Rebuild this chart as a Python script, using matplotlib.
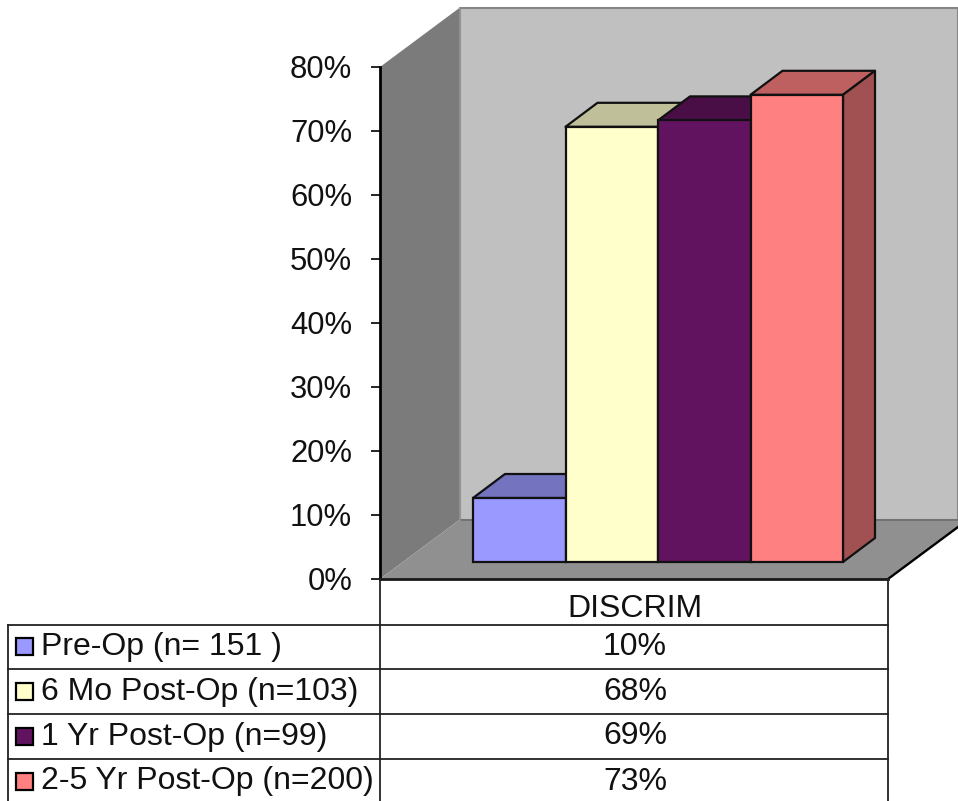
import matplotlib
matplotlib.use('Agg')
from matplotlib import pyplot as plt
from matplotlib.patches import Polygon, Rectangle
from matplotlib.colors import to_rgb

W, H = 958, 801

series_labels = ['Pre-Op (n= 151 )', '6 Mo Post-Op (n=103)', '1 Yr Post-Op (n=99)', '2-5 Yr Post-Op (n=200)']
series_values = [10, 68, 69, 73]
series_colors = ['#9999FF', '#FFFFCC', '#62135F', '#FF8080']
category = 'DISCRIM'
y_ticks = [0, 10, 20, 30, 40, 50, 60, 70, 80]

plt.rcParams['font.family'] = ['Liberation Sans', 'DejaVu Sans']

fig = plt.figure(figsize=(W / 100, H / 100), dpi=100)

# eixo principal: x em pixels a partir do eixo vertical, y em percentagem
ax = fig.add_axes([380 / W, (H - 579) / H, 508 / W, 512 / H])
ax.set_xlim(0, 508)
ax.set_ylim(0, 80)
ax.patch.set_visible(False)

PX = 80 / 512  # unidades de y por pixel
wall_dx, wall_dy = 80, 59.5 * PX
bar_dx, bar_dy = 32, 24 * PX
bar_w = 92.5
bar_x0 = 93
bar_base = 17 * PX


def poly(pts, face, edge='none', lw=0.0, z=1):
    ax.add_patch(Polygon(pts, closed=True, facecolor=face, edgecolor=edge,
                         linewidth=lw, clip_on=False, zorder=z, joinstyle='round'))


def shade(color, f):
    return tuple(c * f for c in to_rgb(color))


# paredes e chao do grafico 3D
top = 80 + wall_dy
right = 578
poly([(wall_dx, wall_dy), (right, wall_dy), (right, top), (wall_dx, top)], '#C0C0C0', '#858585', 1.5)
poly([(0, 0), (wall_dx, wall_dy), (wall_dx, top), (0, 80)], '#7B7B7B', z=1.1)
poly([(0, 0), (wall_dx, wall_dy), (right, wall_dy), (right, 52 * PX), (508, 0)], '#909090', z=1.2)
ax.plot([wall_dx, right], [wall_dy, wall_dy], color='#6E6E6E', lw=1.2, clip_on=False, zorder=1.3)
ax.plot([wall_dx, wall_dx], [wall_dy, top], color='#959595', lw=1.2, clip_on=False, zorder=1.3)
ax.plot([508, right], [0, 52 * PX], color='black', lw=1.7, clip_on=False, zorder=1.3)

# barras, da esquerda para a direita
for i, (val, col) in enumerate(zip(series_values, series_colors)):
    x0 = bar_x0 + i * bar_w
    x1 = x0 + bar_w
    y0 = bar_base
    y1 = bar_base + val
    z = 2 + i
    poly([(x0, y1), (x0 + bar_dx, y1 + bar_dy), (x1 + bar_dx, y1 + bar_dy), (x1, y1)],
         shade(col, 0.75), '#111111', 1.6, z)
    poly([(x1, y0), (x1 + bar_dx, y0 + bar_dy), (x1 + bar_dx, y1 + bar_dy), (x1, y1)],
         shade(col, 0.63), '#111111', 1.6, z)
    ax.add_patch(Rectangle((x0, y0), bar_w, val, facecolor=col, edgecolor='#111111',
                           linewidth=1.6, clip_on=False, zorder=z + 0.5))

# escala vertical
for side in ['top', 'right']:
    ax.spines[side].set_visible(False)
ax.spines['left'].set_linewidth(2.0)
ax.spines['bottom'].set_linewidth(2.0)
ax.spines['bottom'].set_color('#1A1A1A')
ax.spines['left'].set_zorder(10)
ax.spines['bottom'].set_zorder(10)
ax.set_xticks([])
ax.set_yticks(y_ticks)
ax.set_yticklabels([f'{t}%' for t in y_ticks], fontsize=22.3, color='#111111')
ax.tick_params(axis='y', length=6.5, width=1.2, pad=13.5)

# tabela de dados por baixo do grafico
tb = fig.add_axes([0, 0, 1, 1])
tb.set_xlim(0, W)
tb.set_ylim(H, 0)
tb.axis('off')
tb.patch.set_visible(False)

row_lines = [625, 669, 714, 759]
row_centers = [647, 692, 736.5, 781.5]
key_centers = [646, 691, 736.5, 781]

tb.plot([380, 380], [579, 801], color='#222222', lw=1.3)
tb.plot([888, 888], [579, 801], color='#222222', lw=1.3)
tb.plot([8, 8], [625, 801], color='#222222', lw=1.3)
for y in row_lines:
    tb.plot([8, 888], [y, y], color='#222222', lw=1.3)

tb.text(635, 609, category, ha='center', va='center', fontsize=23, color='#111111')
for label, val, col, yc, yk in zip(series_labels, series_values, series_colors, row_centers, key_centers):
    tb.add_patch(Rectangle((16, yk - 8.5), 17, 17, facecolor=col, edgecolor='black', linewidth=1.6))
    tb.text(41, yc, label, ha='left', va='center', fontsize=23, color='#111111')
    tb.text(635, yc, f'{val}%', ha='center', va='center', fontsize=23, color='#111111')

fig.savefig('out.png', dpi=100)
